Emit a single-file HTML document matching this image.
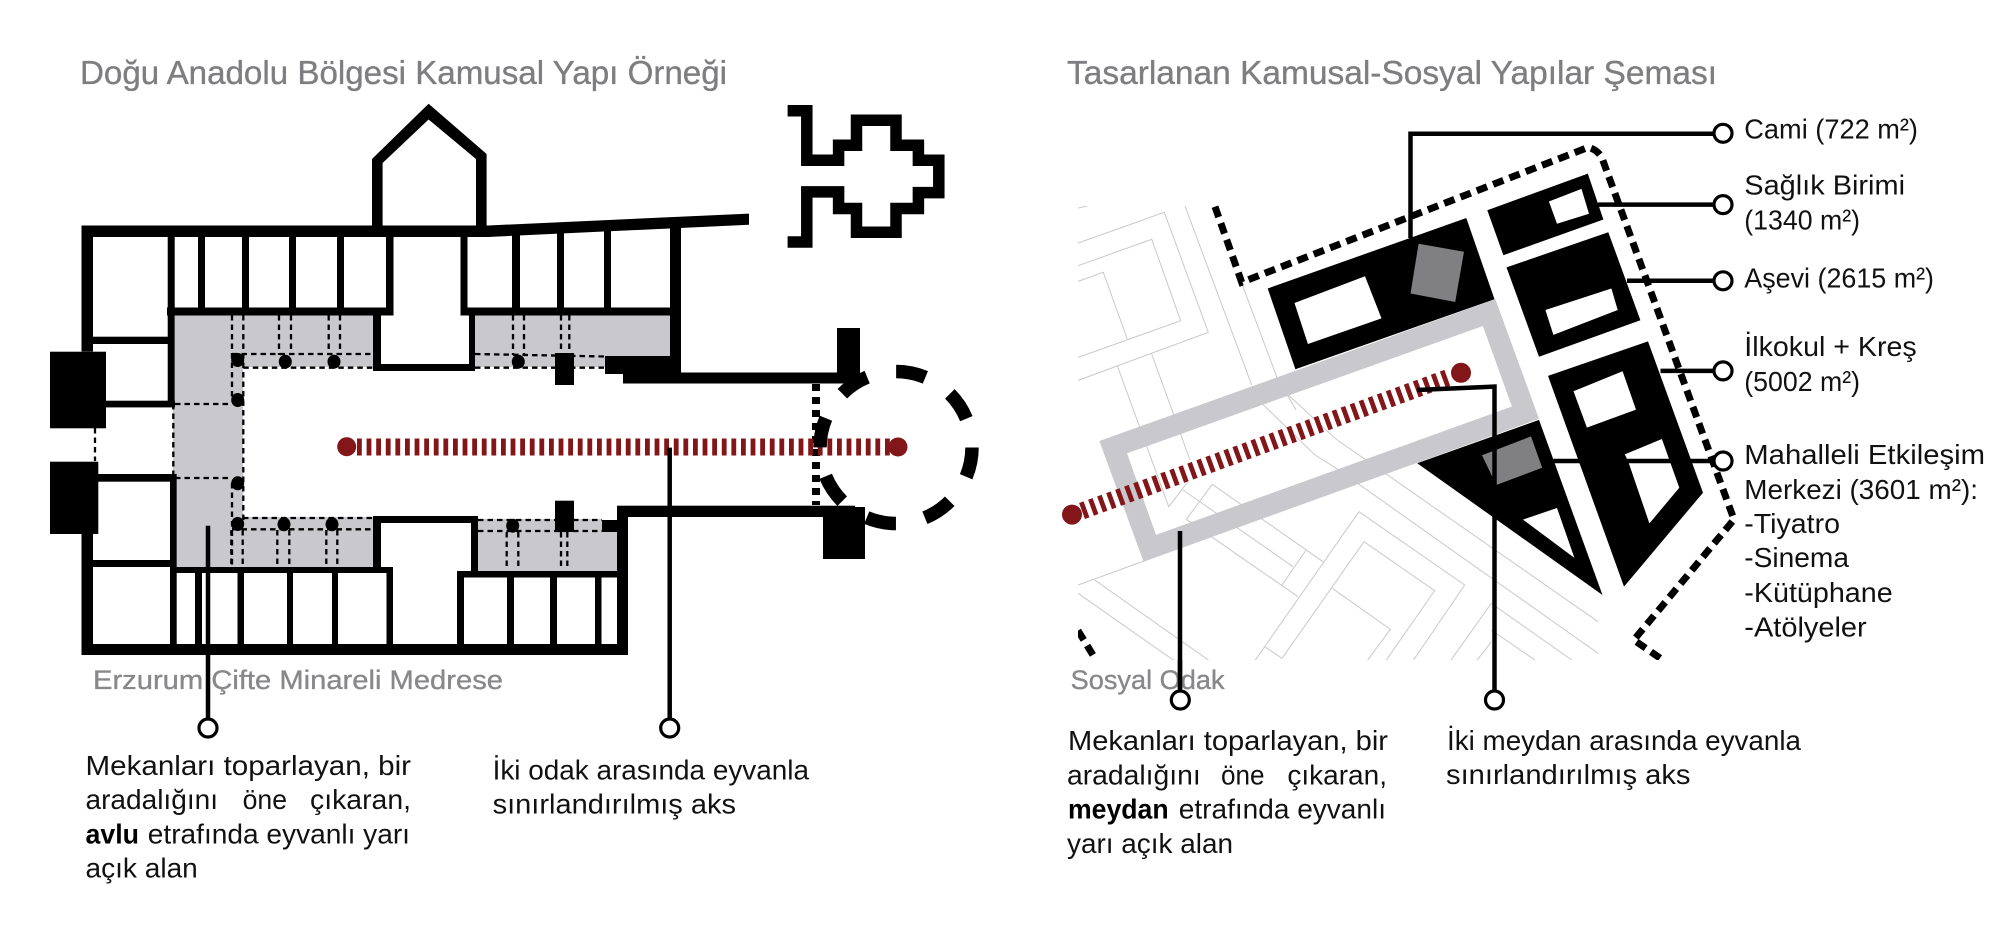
<!DOCTYPE html>
<html lang="tr"><head><meta charset="utf-8"><title>Kamusal Yapı Şeması</title>
<style>
html,body{margin:0;padding:0;background:#fff;width:2000px;height:949px;overflow:hidden}
svg{display:block}
text{font-family:"Liberation Sans","DejaVu Sans",sans-serif}
.t{font-size:33px;fill:#7e7e81;stroke:#7e7e81;stroke-width:.35}
.s{font-size:27px;fill:#88888b;stroke:#88888b;stroke-width:.35}
.b{font-size:28px;fill:#111}
.bb{font-size:28px;fill:#000;font-weight:bold}
.k{fill:#000}
.g{fill:#c8c8cd}
.d{fill:none;stroke:#000;stroke-width:2.3;stroke-dasharray:5.5 4}
.site{fill:none;stroke:#c9c9c9;stroke-width:1;vector-effect:non-scaling-stroke}
.c{fill:#fff;stroke:#000;stroke-width:3.2}
.l{fill:none;stroke:#000;stroke-width:4.5}
</style></head><body>
<svg width="2000" height="949" viewBox="0 0 2000 949" xmlns="http://www.w3.org/2000/svg">
<defs>
<clipPath id="cp"><rect x="1078" y="206" width="680" height="454"/></clipPath>
<clipPath id="cb"><rect x="1078" y="100" width="680" height="560"/></clipPath>
</defs>

<text class="t" x="80" y="84" textLength="647" lengthAdjust="spacingAndGlyphs">Doğu Anadolu Bölgesi Kamusal Yapı Örneği</text>
<text class="t" x="1067" y="84" textLength="650" lengthAdjust="spacingAndGlyphs">Tasarlanan Kamusal-Sosyal Yapılar Şeması</text>

<!-- left plan: gray -->
<path class="g" d="M175 315H373V367H243V517H373V567H176.700V478H173V404H175Z"/>
<path class="g" d="M475 315H670V356H605V367H475Z"/>
<path class="g" d="M478 519H602V532H617V571H478Z"/>

<!-- dashed courtyard lines -->
<path class="d" d="M232 315V400M243.300 315V520M232 483V567M279 315V355M291 315V355M328.700 315V355M340 315V355M232 354H373M243.300 367.700H373M475 354L605 356.500M475 367.700H605M513 315V355M524 315V355M561 315V355M569.300 315V355M175 404H232M173.300 404V477M175 478H232M243 518H373M232 529.300H373M231.300 530V567M242.700 530V567M277.300 530V567M289.300 530V567M326.300 530V567M337.300 530V567M478 520H602M478 531H602M506.700 532V570M518.300 532V570M561 532V570M567.300 532V570"/>
<path class="d" d="M95 428V461"/>

<!-- columns -->
<g class="k">
<ellipse cx="237.700" cy="360" rx="6.500" ry="7"/><ellipse cx="285.300" cy="361.700" rx="6.500" ry="7"/><ellipse cx="334" cy="361.700" rx="6.500" ry="7"/>
<ellipse cx="237.700" cy="400" rx="6.500" ry="7"/><ellipse cx="237.700" cy="483.300" rx="6.500" ry="7"/><ellipse cx="237.700" cy="524" rx="6.500" ry="7"/>
<ellipse cx="284" cy="524.300" rx="6.500" ry="7"/><ellipse cx="332" cy="524.300" rx="6.500" ry="7"/><ellipse cx="518.300" cy="361.700" rx="6.500" ry="7"/><ellipse cx="512.700" cy="525.700" rx="6.500" ry="7"/>
</g>

<!-- walls -->
<g class="k">
<rect x="81.500" y="225.500" width="11.500" height="126"/>
<rect x="81.500" y="534" width="11.500" height="121"/>
<rect x="81.500" y="225.500" width="408" height="11.500"/>
<rect x="81.500" y="644" width="546.500" height="11"/>
<polygon points="488,225.500 749,213.600 749,224.700 488,237"/>
<path fill-rule="evenodd" d="M428.600 103.700L486.600 154V226H372V159ZM428.600 119.500L382.600 163V226H476V159Z"/>
<rect x="50" y="351.700" width="56" height="76.600"/>
<rect x="50" y="461.700" width="48.300" height="72.300"/>
<rect x="93" y="336.700" width="75" height="7.300"/>
<rect x="106" y="400.700" width="69" height="6.700"/>
<rect x="98" y="474" width="78" height="7.700"/>
<rect x="93" y="560" width="80" height="7"/>
<rect x="167.700" y="237" width="7" height="170"/>
<rect x="170" y="474" width="6.700" height="181"/>
<rect x="198" y="237" width="7" height="72"/><rect x="242" y="237" width="7" height="72"/><rect x="289" y="237" width="7" height="72"/><rect x="337" y="237" width="7" height="72"/><rect x="386" y="237" width="7.500" height="72"/><rect x="460.500" y="236" width="7" height="73"/><rect x="512" y="234" width="8" height="75"/><rect x="557" y="232" width="7" height="77"/><rect x="604" y="230" width="7" height="79"/>
<rect x="670" y="226" width="11" height="157"/>
<rect x="167" y="307.500" width="226.500" height="8"/>
<rect x="460.500" y="307.500" width="220" height="8"/>
<path d="M373 315H381V364H469V315H475V371H373Z"/>
<path d="M373 516H478V577H471V523H381V567H373Z"/>
<rect x="170" y="567" width="223" height="6"/>
<rect x="457" y="571" width="171" height="6.500"/>
<rect x="195" y="567" width="7" height="78"/><rect x="237.500" y="567" width="6.500" height="78"/><rect x="287" y="567" width="6" height="78"/><rect x="332" y="567" width="6" height="78"/><rect x="386.500" y="567" width="6.500" height="78"/><rect x="457" y="571" width="7" height="74"/><rect x="507" y="571" width="7" height="74"/><rect x="550" y="571" width="7" height="74"/><rect x="595" y="571" width="6.500" height="74"/>
<rect x="617" y="506" width="11" height="149"/>
<rect x="555" y="353" width="19" height="32"/>
<rect x="555" y="500.700" width="19" height="31.300"/>
<rect x="602" y="520" width="15" height="12"/>
<path d="M605 356H680V383.500H623V374H605Z"/>
<rect x="623" y="372.500" width="232" height="11"/>
<rect x="837" y="328" width="23" height="50"/>
<rect x="617" y="505.700" width="238" height="11.300"/>
<rect x="823" y="507" width="42" height="52"/>
</g>
<path d="M816 384V505" fill="none" stroke="#000" stroke-width="8" stroke-dasharray="7 6"/>

<!-- entrance minaret plan -->
<path fill="none" stroke="#000" stroke-width="11.500" stroke-linejoin="miter" d="M787.600 110.800H806.800V160.200H838.600V145.200H856.500V120.300H896V145.200H918.400V160.200H938.800V192.600H918.400V208.500H896V232.200H856.500V208.500H838.600V191.900H806.800V242H787.600"/>

<!-- red axis left -->
<path d="M357 447H890" fill="none" stroke="#821619" stroke-width="17" stroke-dasharray="4.800 4.800"/>
<circle cx="346.700" cy="446.700" r="9.500" fill="#821619"/>
<circle cx="898" cy="447" r="9.500" fill="#821619"/>

<!-- dashed circle -->
<circle cx="896" cy="447.500" r="76" fill="none" stroke="#000" stroke-width="13.500" stroke-dasharray="30 29.690"/>

<!-- leaders left -->
<path class="l" d="M208 525.700V719M669.700 447.600V719"/>
<circle class="c" cx="208" cy="728" r="9"/>
<circle class="c" cx="669.700" cy="728" r="9"/>

<text class="s" x="93" y="689" textLength="410" lengthAdjust="spacingAndGlyphs">Erzurum Çifte Minareli Medrese</text>

<text class="b" x="85.500" y="775" textLength="325.500" lengthAdjust="spacingAndGlyphs">Mekanları toparlayan, bir</text>
<text class="b" x="85.500" y="809" textLength="132.500" lengthAdjust="spacingAndGlyphs">aradalığını</text>
<text class="b" x="242.600" y="809" textLength="44.400" lengthAdjust="spacingAndGlyphs">öne</text>
<text class="b" x="310" y="809" textLength="101" lengthAdjust="spacingAndGlyphs">çıkaran,</text>
<text class="bb" x="85.500" y="843.300" textLength="53.500" lengthAdjust="spacingAndGlyphs">avlu</text>
<text class="b" x="147.800" y="843.300" textLength="262.200" lengthAdjust="spacingAndGlyphs">etrafında eyvanlı yarı</text>
<text class="b" x="85.500" y="877.300" textLength="112.300" lengthAdjust="spacingAndGlyphs">açık alan</text>
<text class="b" x="492.600" y="779.300" textLength="316.400" lengthAdjust="spacingAndGlyphs">İki odak arasında eyvanla</text>
<text class="b" x="492.600" y="813.300" textLength="243.400" lengthAdjust="spacingAndGlyphs">sınırlandırılmış aks</text>

<!-- right site lines -->
<g clip-path="url(#cp)">
<path class="site" d="M1077.300 208.300L1087.300 206M1077.300 243.300L1164.300 212.300L1208.300 332.300L1077.300 380.700M1077.300 266L1151.700 239.300L1180.700 320.700L1077.300 357.700M1077.300 281.700L1103.300 272.300L1127.300 339M1117.300 365.700L1168.700 506.700L1188 481.700M1151.700 354L1190 460M1185 206L1251.700 385M1241.700 283.300L1276.700 376.700L1296 410M1261.700 403.300L1315 455L1336.300 468.300M1288.300 395L1337 440"/>
<g transform="translate(1078,440) scale(.33333)">
<path class="site" d="M315 150L645 380M403 133L325 238L660 470M403 133L735 365M683 332L612 435M843 215L1160 435L1000 670M858 305L1070 452L918 670M763 445L937 568L862 670M843 215L560 620L525 670M560 620L612 655L858 305M778 0L1560 545M775 85L1560 640M1240 490L1112 670M1240 605L1190 670M1240 490L1495 670M1240 570L1385 670M0 435L200 362M50 420L405 670M0 460L300 670"/>
</g>
</g>

<!-- buildings -->
<g class="k">
<path fill-rule="evenodd" d="M1267.700 288.500L1466.300 218L1494.500 299.200L1295.400 369.300ZM1294.500 303L1307.900 344L1381.500 318.400L1365 276.200Z"/>
<path fill-rule="evenodd" d="M1487.300 210.300L1587.800 173.600L1603.400 219.500L1503.400 255.200ZM1548.900 201.500L1581.500 188.900L1589 213.800L1557 223.800Z"/>
<path fill-rule="evenodd" d="M1506.500 267.400L1608.300 232.200L1640.400 320.300L1539 356.700ZM1545.400 310L1611.400 288.500L1617.700 310L1553.400 334.900Z"/>
<path fill-rule="evenodd" d="M1548 375.900L1648 341.400L1703 492.700L1624 586.600ZM1573.500 391.200L1622.600 371.300L1636 409.600L1586.900 427.600ZM1624.800 454.400L1661.900 439L1679.300 487.700L1649.400 523.400L1628.400 462Z"/>
<path fill-rule="evenodd" d="M1417.200 463.200L1539 419.900L1602.500 595ZM1523 519.600L1557 508L1574.400 557.900Z"/>
</g>
<polygon points="1418.600,243.700 1464,251.700 1455.200,302 1410.500,293.500" fill="#808083"/>
<polygon points="1482,455.200 1531,436.400 1542.200,467.800 1496.300,485" fill="#808083"/>

<!-- gray frame -->
<path class="g" fill-rule="evenodd" d="M1099.400 441L1495.400 299.200L1539 418.800L1143.600 561.700ZM1127 453.300L1156 534.900L1511.900 406.500L1482.900 326Z"/>

<!-- red axis right -->
<path d="M1082 511L1451 376.500" fill="none" stroke="#821619" stroke-width="17" stroke-dasharray="4.800 4.800"/>
<circle cx="1072" cy="514.600" r="10" fill="#821619"/>
<circle cx="1461" cy="372.800" r="10" fill="#821619"/>

<!-- dashed boundary -->
<g clip-path="url(#cb)">
<path fill="none" stroke="#000" stroke-width="7" stroke-dasharray="11 6.500" d="M1215 206.700L1241.700 282.300L1588.300 147.300Q1598 150 1602 158L1734 519.500L1633.800 640L1662.800 660"/>
<path fill="none" stroke="#000" stroke-width="7" stroke-dasharray="11 6.500" d="M1078 630.600L1096 660"/>
</g>

<!-- connectors right -->
<path class="l" d="M1410.500 238V133.700H1714M1598 204.600H1714M1627 280.800H1714M1660.500 370.900H1714M1553.400 461H1714M1417 390L1494.500 386.600V691M1180 531V691"/>
<circle class="c" cx="1723" cy="133.300" r="9"/>
<circle class="c" cx="1723" cy="204.600" r="9"/>
<circle class="c" cx="1723" cy="280.800" r="9"/>
<circle class="c" cx="1723" cy="370.900" r="9"/>
<circle class="c" cx="1723" cy="461" r="9"/>

<text class="s" x="1070.600" y="689" textLength="154" lengthAdjust="spacingAndGlyphs">Sosyal Odak</text>
<path class="l" d="M1180 660V691"/>
<circle class="c" cx="1180.300" cy="700" r="9"/>
<circle class="c" cx="1494.500" cy="700" r="9"/>

<text class="b" x="1068" y="750" textLength="320" lengthAdjust="spacingAndGlyphs">Mekanları toparlayan, bir</text>
<text class="b" x="1067" y="784.300" textLength="133.700" lengthAdjust="spacingAndGlyphs">aradalığını</text>
<text class="b" x="1221" y="784.300" textLength="43.500" lengthAdjust="spacingAndGlyphs">öne</text>
<text class="b" x="1287.400" y="784.300" textLength="99.600" lengthAdjust="spacingAndGlyphs">çıkaran,</text>
<text class="bb" x="1068" y="818.700" textLength="100.600" lengthAdjust="spacingAndGlyphs">meydan</text>
<text class="b" x="1178.800" y="818.700" textLength="207.200" lengthAdjust="spacingAndGlyphs">etrafında eyvanlı</text>
<text class="b" x="1067" y="853" textLength="166" lengthAdjust="spacingAndGlyphs">yarı açık alan</text>
<text class="b" x="1447" y="750" textLength="354" lengthAdjust="spacingAndGlyphs">İki meydan arasında eyvanla</text>
<text class="b" x="1446" y="784" textLength="244.500" lengthAdjust="spacingAndGlyphs">sınırlandırılmış aks</text>

<text class="b" x="1744.300" y="138.600" textLength="173.700" lengthAdjust="spacingAndGlyphs">Cami (722 m²)</text>
<text class="b" x="1744.300" y="194.600" textLength="160.700" lengthAdjust="spacingAndGlyphs">Sağlık Birimi</text>
<text class="b" x="1744.300" y="229.300" textLength="115.700" lengthAdjust="spacingAndGlyphs">(1340 m²)</text>
<text class="b" x="1744.300" y="287.500" textLength="189.700" lengthAdjust="spacingAndGlyphs">Aşevi (2615 m²)</text>
<text class="b" x="1744.300" y="356" textLength="172.400" lengthAdjust="spacingAndGlyphs">İlkokul + Kreş</text>
<text class="b" x="1744.300" y="391" textLength="115.700" lengthAdjust="spacingAndGlyphs">(5002 m²)</text>
<text class="b" x="1744.300" y="464" textLength="240.700" lengthAdjust="spacingAndGlyphs">Mahalleli Etkileşim</text>
<text class="b" x="1744.300" y="499" textLength="233.700" lengthAdjust="spacingAndGlyphs">Merkezi (3601 m²):</text>
<text class="b" x="1744.300" y="533" textLength="95.700" lengthAdjust="spacingAndGlyphs">-Tiyatro</text>
<text class="b" x="1744.300" y="567" textLength="104.700" lengthAdjust="spacingAndGlyphs">-Sinema</text>
<text class="b" x="1744.300" y="601.800" textLength="148.400" lengthAdjust="spacingAndGlyphs">-Kütüphane</text>
<text class="b" x="1744.300" y="636.400" textLength="122.400" lengthAdjust="spacingAndGlyphs">-Atölyeler</text>
</svg>
</body></html>
